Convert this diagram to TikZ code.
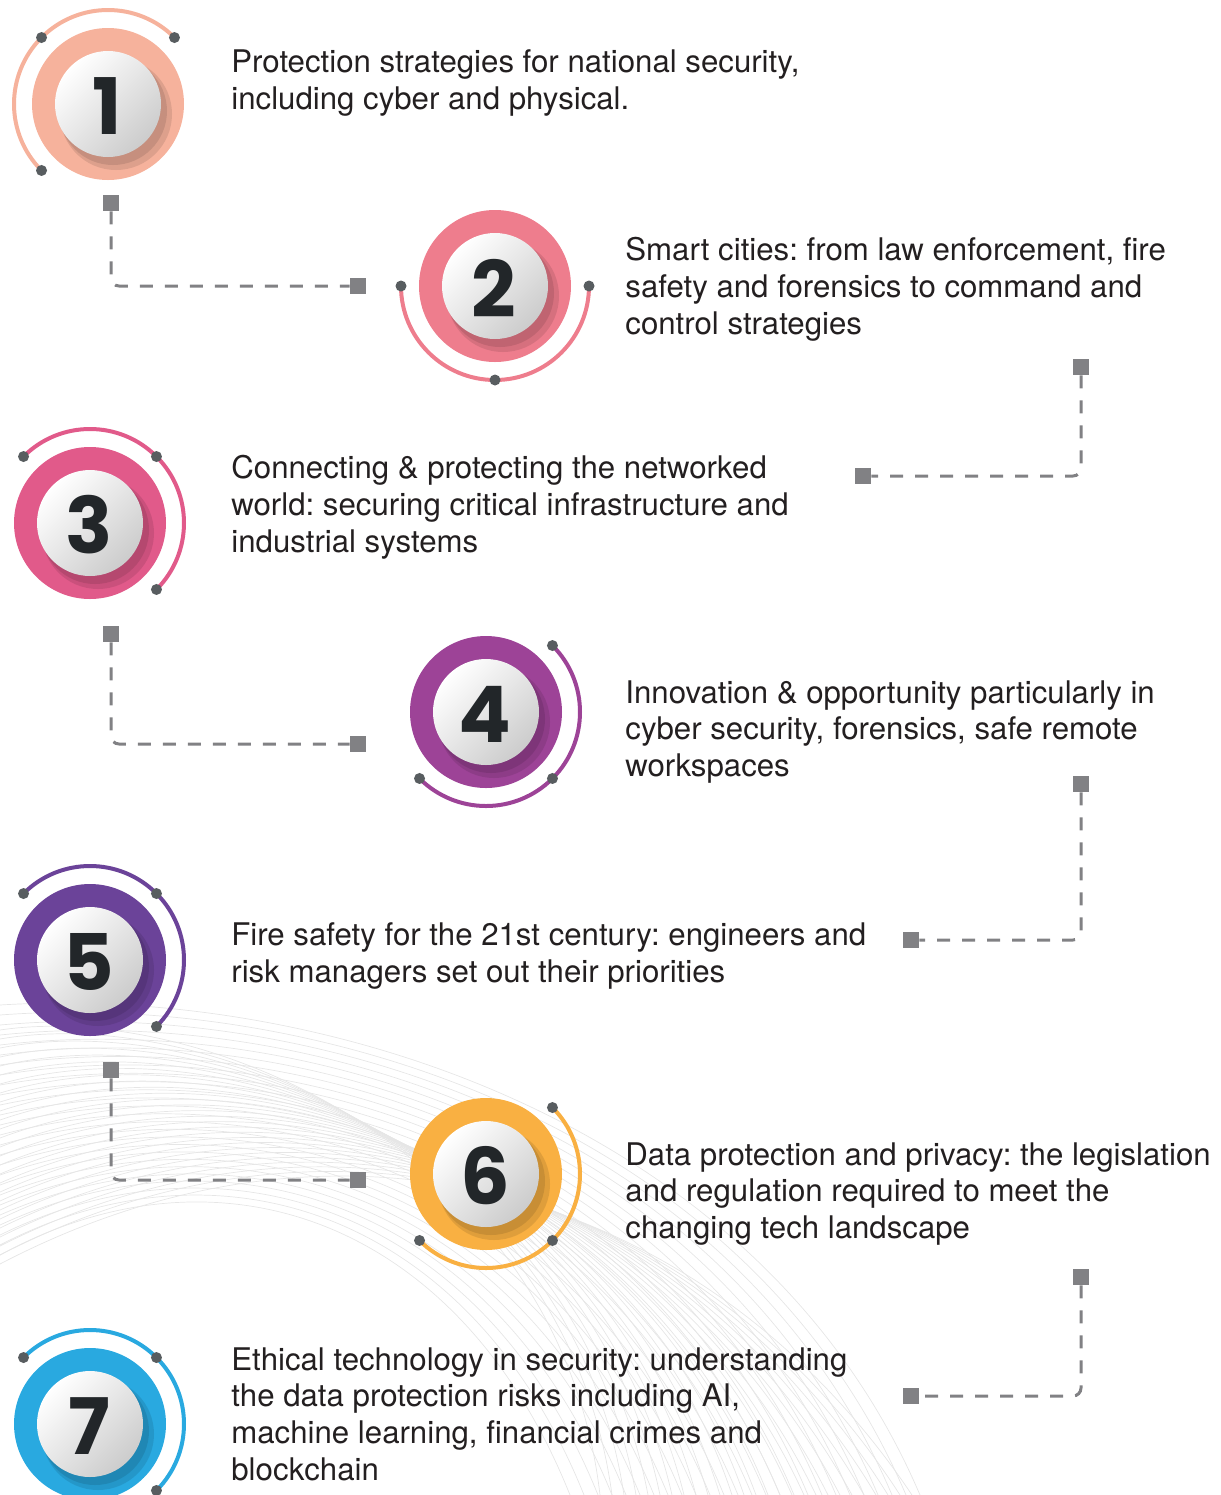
\documentclass[tikz,border=0pt]{standalone}
\usepackage{fontspec}
\setmainfont{TeX Gyre Heros}
\newfontfamily\digitfont{Poppins}
\usetikzlibrary{calc}
\frenchspacing

\definecolor{ink}{HTML}{231F20}
\definecolor{digitink}{HTML}{222629}
\definecolor{linkgray}{HTML}{818184}
\definecolor{dotgray}{HTML}{585D60}
\definecolor{meshgray}{HTML}{E6E6E6}
\definecolor{salmon}{HTML}{F6B29C}
\definecolor{rosered}{HTML}{EE7D8D}
\definecolor{berry}{HTML}{E15A8A}
\definecolor{plum}{HTML}{9D4397}
\definecolor{grape}{HTML}{6B4399}
\definecolor{amber}{HTML}{F9B042}
\definecolor{sky}{HTML}{29A9E0}

% badge: name, x, y, colour, digit, arc from, arc to (page angles)
\newcommand\numbadge[7]{%
  \coordinate (#1) at (#2,#3);
  \fill[#4] (#1) circle[radius=76];
  \fill[#4!60!black, opacity=.25] ($(#1)+(8,10)$) circle[radius=56];
  \fill[#4!60!black, opacity=.3] ($(#1)+(5,7)$) circle[radius=54];
  \shade[ballface] (#1) circle[radius=53];
  \node[digit] (#1-num) at ($(#1)+(-1,2)$) {#5};
  \pgfmathsetmacro\arcA{-(#6)}
  \pgfmathsetmacro\arcB{-(#7)}
  \pgfmathsetmacro\arcM{-(#6+#7)/2}
  \draw[#4, line width=2pt] (#1) ++(\arcA:94) arc[start angle=\arcA, end angle=\arcB, radius=94];
  \foreach \a in {\arcA,\arcM,\arcB}
    \fill[dotgray] (#1) ++(\a:94) circle[radius=5.5];
}

\begin{document}
\begin{tikzpicture}[x=0.5pt, y=-0.5pt,
    info/.style={anchor=north west, inner sep=0pt, align=left, text=ink,
      font=\fontsize{15.6}{18.4}\selectfont},
    digit/.style={inner sep=0pt, text=digitink,
      font=\digitfont\bfseries\fontsize{39}{39}\selectfont},
    ballface/.style={top color=white, bottom color=black!20, shading angle=45},
    sqr/.style={fill=linkgray, minimum size=8pt, inner sep=0pt},
    link/.style={draw=linkgray, line width=1.5pt, dash pattern=on 6.5pt off 6pt,
      rounded corners=4pt},
    meshline/.style={draw=meshgray, line width=0.35pt}]

\useasboundingbox (0,0) rectangle (1221,1495);

% background mesh
\begin{scope}
  \clip (0,985) rectangle (1221,1495);
  \foreach \i in {0,...,25}
    \draw[meshline] (0,1005+10*\i) .. controls (320-4*\i,985+6*\i) and (760-12*\i,1120+4*\i) .. (920-14*\i,1495);
  \foreach \j in {0,...,26}
    \draw[meshline] (0,1030+9*\j) .. controls (200+6*\j,1000+3*\j) and (560+6*\j,1150+2*\j) .. (600+12*\j,1495);
\end{scope}

% connectors
\node[sqr] (a1) at (111,203) {};
\node[sqr] (b1) at (358,286) {};
\draw[link] (a1) |- (b1);
\node[sqr] (a2) at (1081,367) {};
\node[sqr] (b2) at (863,476) {};
\draw[link] (a2) |- (b2);
\node[sqr] (a3) at (111,634) {};
\node[sqr] (b3) at (358,744) {};
\draw[link] (a3) |- (b3);
\node[sqr] (a4) at (1081,784) {};
\node[sqr] (b4) at (911,940) {};
\draw[link] (a4) |- (b4);
\node[sqr] (a5) at (111,1070) {};
\node[sqr] (b5) at (358,1180) {};
\draw[link] (a5) |- (b5);
\node[sqr] (a6) at (1081,1277) {};
\node[sqr] (b6) at (911,1396) {};
\draw[link] (a6) |- (b6);

% badges
\numbadge{c1}{108}{104}{salmon}{1}{45}{225}
\numbadge{c2}{495}{286}{rosered}{2}{180}{360}
\numbadge{c3}{90}{523}{berry}{3}{-45}{135}
\numbadge{c4}{486}{712}{plum}{4}{-135}{45}
\numbadge{c5}{90}{960}{grape}{5}{-45}{135}
\numbadge{c6}{486}{1174}{amber}{6}{-135}{45}
\numbadge{c7}{90}{1424}{sky}{7}{-45}{135}

% texts
\node[info] (t1) at (231,49) {Protection strategies for national security,\\including cyber and physical.};
\node[info] (t2) at (625,237) {Smart cities: from law enforcement, fire\\safety and forensics to command and\\control strategies};
\node[info] (t3) at (231,455) {Connecting \& protecting the networked\\world: securing critical infrastructure and\\industrial systems};
\node[info] (t4) at (625,680) {Innovation \& opportunity particularly in\\cyber security, forensics, safe remote\\workspaces};
\node[info] (t5) at (231,922) {Fire safety for the 21st century: engineers and\\risk managers set out their priorities};
\node[info] (t6) at (625,1142) {Data protection and privacy: the legislation\\and regulation required to meet the\\changing tech landscape};
\node[info] (t7) at (231,1347) {Ethical technology in security: understanding\\the data protection risks including AI,\\machine learning, financial crimes and\\blockchain};
\end{tikzpicture}
\end{document}
